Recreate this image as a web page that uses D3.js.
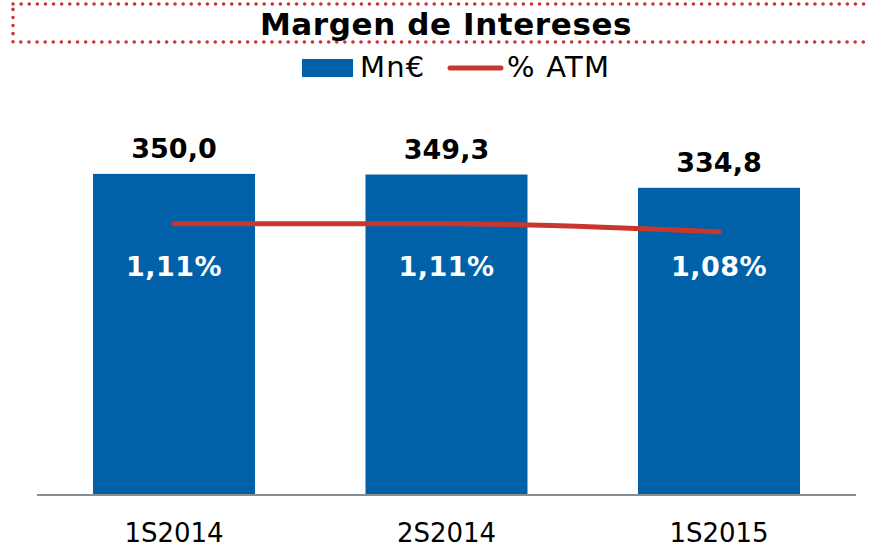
<!DOCTYPE html>
<html>
<head>
<meta charset="utf-8">
<script src="https://cdn.jsdelivr.net/npm/d3@7"></script>
<style>
  body { margin: 0; background: #fff; }
  svg { display: block; font-family: "DejaVu Sans", Verdana, sans-serif; }
</style>
</head>
<body>
<svg id="chart" width="869" height="547"></svg>
<script>
var categories = ["1S2014", "2S2014", "1S2015"];
var mnValues = [350.0, 349.3, 334.8];
var atmValues = [1.11, 1.11, 1.08];
var seriesNames = ["Mn€", "% ATM"];

var fmtMn = function(v) { return d3.format(".1f")(v).replace(".", ","); };
var fmtPct = function(v) { return d3.format(".2f")(v).replace(".", ",") + "%"; };

var svg = d3.select("#chart"),
    width = +svg.attr("width"),
    height = +svg.attr("height");

var blue = "#0061a8", red = "#c8372f";

var x = d3.scaleBand()
    .domain(categories)
    .range([37, 856])
    .paddingInner(0.4055)
    .paddingOuter(0.2055);

var y = d3.scaleLinear().domain([0, 400]).range([495, 128]);
var y2 = d3.scaleLinear().domain([0.1, 1.5]).range([495, 119]);

// title box (dotted)
svg.append("rect")
    .attr("x", 13).attr("y", 4)
    .attr("width", 880).attr("height", 38)
    .attr("fill", "none")
    .attr("stroke", "#cc3333")
    .attr("stroke-width", 3.5)
    .attr("stroke-linecap", "round")
    .attr("stroke-dasharray", "0.1 8");

svg.append("text")
    .attr("x", 446).attr("y", 35)
    .attr("text-anchor", "middle")
    .attr("font-size", 31)
    .attr("font-weight", "bold")
    .attr("letter-spacing", 0.6)
    .attr("fill", "#000")
    .text("Margen de Intereses");

// legend
var legend = svg.append("g").attr("font-size", 29).attr("letter-spacing", 1.2);
legend.append("rect")
    .attr("x", 302).attr("y", 59).attr("width", 51).attr("height", 18)
    .attr("fill", blue);
legend.append("text").attr("x", 360).attr("y", 77).text(seriesNames[0]);
legend.append("line")
    .attr("x1", 450).attr("x2", 501).attr("y1", 68).attr("y2", 68)
    .attr("stroke", red).attr("stroke-width", 5).attr("stroke-linecap", "round");
legend.append("text").attr("x", 507).attr("y", 77).text(seriesNames[1]);

// bars
svg.append("g").selectAll("rect")
    .data(mnValues)
    .enter().append("rect")
    .attr("x", function(d, i) { return x(categories[i]); })
    .attr("y", function(d) { return y(d); })
    .attr("width", x.bandwidth())
    .attr("height", function(d) { return y(0) - y(d); })
    .attr("fill", blue);

// axis baseline
svg.append("line")
    .attr("x1", 37).attr("x2", 856)
    .attr("y1", y(0)).attr("y2", y(0))
    .attr("stroke", "#8c8c8c").attr("stroke-width", 2);

// category labels
svg.append("g").selectAll("text")
    .data(categories)
    .enter().append("text")
    .attr("x", function(d) { return x(d) + x.bandwidth() / 2; })
    .attr("y", 542)
    .attr("text-anchor", "middle")
    .attr("font-size", 26)
    .attr("fill", "#000")
    .text(function(d) { return d; });

// value labels
svg.append("g").selectAll("text")
    .data(mnValues)
    .enter().append("text")
    .attr("x", function(d, i) { return x(categories[i]) + x.bandwidth() / 2; })
    .attr("y", function(d) { return y(d) - 16; })
    .attr("text-anchor", "middle")
    .attr("font-size", 27)
    .attr("font-weight", "bold")
    .attr("fill", "#000")
    .text(fmtMn);

// % ATM line
var line = d3.line()
    .x(function(d, i) { return x(categories[i]) + x.bandwidth() / 2; })
    .y(function(d) { return y2(d); })
    .curve(d3.curveMonotoneX);

svg.append("path")
    .datum(atmValues)
    .attr("d", line)
    .attr("fill", "none")
    .attr("stroke", red)
    .attr("stroke-width", 5)
    .attr("stroke-linecap", "round");

svg.append("g").selectAll("text")
    .data(atmValues)
    .enter().append("text")
    .attr("x", function(d, i) { return x(categories[i]) + x.bandwidth() / 2; })
    .attr("y", 276)
    .attr("text-anchor", "middle")
    .attr("font-size", 27)
    .attr("font-weight", "bold")
    .attr("letter-spacing", 0.5)
    .attr("fill", "#fff")
    .text(fmtPct);
</script>
</body>
</html>
